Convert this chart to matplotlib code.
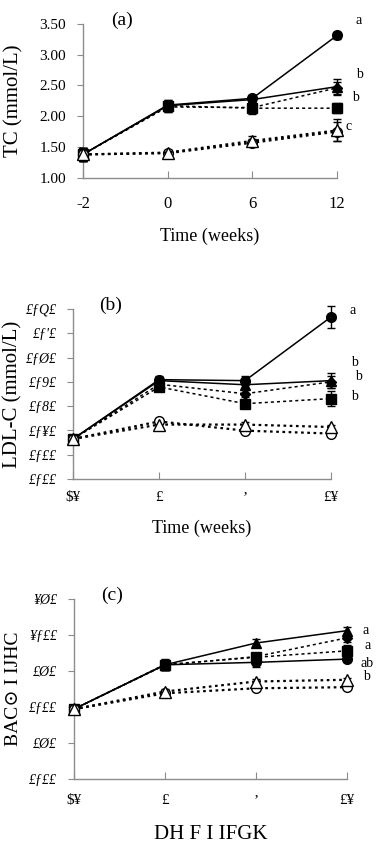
import matplotlib
matplotlib.use("Agg")
import matplotlib.pyplot as plt

plt.rcParams['font.family'] = ['Liberation Serif', 'DejaVu Serif']

weeks = ["-2", "0", "6", "12"]

# TC (mmol/L)
tc_open_circle = [1.38, 1.40, 1.57, 1.75]
tc_open_tri = [1.38, 1.41, 1.60, 1.77]
tc_circle = [1.38, 2.18, 2.29, 3.31]
tc_tri = [1.38, 2.17, 2.27, 2.48]
tc_diamond = [1.38, 2.15, 2.14, 2.46]
tc_square = [1.38, 2.17, 2.13, 2.13]
tc_err_open_circle = [0.08, 0.05, 0.06, 0.16]
tc_err_open_tri = [0.10, 0.05, 0.08, 0.18]
tc_err_circle = [0.10, 0.08, 0.05, 0.05]
tc_err_tri = [0.10, 0.10, 0.06, 0.13]
tc_err_diamond = [0.10, 0.08, 0.10, 0.10]
tc_err_square = [0.10, 0.08, 0.06, 0.08]

# LDL-C
ldl_open_circle = [0.165, 0.237, 0.199, 0.187]
ldl_open_tri = [0.165, 0.224, 0.224, 0.214]
ldl_circle = [0.165, 0.409, 0.405, 0.667]
ldl_tri = [0.165, 0.405, 0.388, 0.405]
ldl_diamond = [0.165, 0.390, 0.351, 0.400]
ldl_square = [0.165, 0.379, 0.310, 0.331]
ldl_err_open_circle = [0.010, 0.010, 0.008, 0.008]
ldl_err_open_tri = [0.010, 0.010, 0.010, 0.010]
ldl_err_circle = [0.012, 0.015, 0.020, 0.045]
ldl_err_tri = [0.012, 0.015, 0.015, 0.030]
ldl_err_diamond = [0.012, 0.015, 0.015, 0.025]
ldl_err_square = [0.012, 0.015, 0.010, 0.030]

# HDL-C
hdl_open_circle = [0.97, 1.19, 1.26, 1.275]
hdl_open_tri = [0.97, 1.215, 1.354, 1.378]
hdl_circle = [0.97, 1.586, 1.62, 1.665]
hdl_tri = [0.97, 1.586, 1.888, 2.06]
hdl_diamond = [0.97, 1.58, 1.70, 1.96]
hdl_square = [0.97, 1.59, 1.69, 1.78]
hdl_err_open_circle = [0.03, 0.03, 0.03, 0.03]
hdl_err_open_tri = [0.03, 0.03, 0.03, 0.03]
hdl_err_circle = [0.03, 0.07, 0.07, 0.04]
hdl_err_tri = [0.03, 0.07, 0.05, 0.05]
hdl_err_diamond = [0.03, 0.07, 0.05, 0.06]
hdl_err_square = [0.03, 0.07, 0.06, 0.08]

# tick labels as they appear in the figure
tc_yticks = [1.00, 1.50, 2.00, 2.50, 3.00, 3.50]
tc_yticklabels = ["1.00", "1.50", "2.00", "2.50", "3.00", "3.50"]
ldl_yticks = [0.0, 0.1, 0.2, 0.3, 0.4, 0.5, 0.6, 0.7]
ldl_yticklabels = ["£ƒ££", "£ƒ££", "£ƒ¥£", "£ƒ8£", "£ƒ9£", "£ƒØ£", "£ƒ'£", "£ƒQ£"]
hdl_yticks = [0.0, 0.5, 1.0, 1.5, 2.0, 2.5]
hdl_yticklabels = ["£ƒ££", "£Ø£", "£ƒ££", "£Ø£", "¥ƒ££", "¥Ø£"]
garbled_weeks = ["$¥", "£", "ʼ", "£¥"]

# significance letters at week 12: (text, y value, x offset px)
tc_letters = [("a", 3.55, 18), ("b", 2.67, 19), ("b", 2.30, 15), ("c", 1.83, 8)]
ldl_letters = [("a", 0.692, 18), ("b", 0.478, 20), ("b", 0.424, 24), ("b", 0.338, 20)]
hdl_letters = [("a", 2.056, 16), ("a", 1.86, 18), ("ab", 1.61, 14), ("b", 1.42, 16)]

spine_col = "#8c8c8c"


def draw_panel(ax, series, ylim, yticks, yticklabels, xticklabels, ylabel, xlabel,
               tag, tag_x, letters, xpad, labelpad, ylabel_size=15, xlabel_size=13,
               ytick_size=11, xtick_size=11):
    x = list(range(len(weeks)))
    # filled groups first so the open symbols sit on top at week -2
    styles = [
        # (values, errors, marker, facecolor, linestyle, linewidth, markersize)
        (series[4], series[5], "D", "black", (0, (2, 2)), 1.1, 5),
        (series[6], series[7], "s", "black", (0, (2, 2)), 1.1, 6.5),
        (series[8], series[9], "^", "black", "-", 1.1, 7),
        (series[10], series[11], "o", "black", "-", 1.1, 7),
        (series[0], series[1], "o", "white", (0, (1.2, 1.6)), 1.6, 7),
        (series[2], series[3], "^", "white", (0, (1.2, 1.6)), 1.6, 8),
    ]
    for vals, errs, mk, fc, ls, lw, ms in styles:
        ax.errorbar(x, vals, yerr=errs, color="black", linestyle=ls, linewidth=lw,
                    marker=mk, markerfacecolor=fc, markeredgecolor="black",
                    markeredgewidth=1.0, markersize=ms, ecolor="black",
                    elinewidth=1.0, capsize=3, capthick=1.0, clip_on=False, zorder=3)
    ax.set_xlim(0, len(weeks) - 1)
    ax.set_ylim(*ylim)
    ax.set_xticks(x)
    ax.set_xticklabels(xticklabels, fontsize=xtick_size)
    ax.set_yticks(yticks)
    ax.set_yticklabels(yticklabels, fontsize=ytick_size)
    ax.tick_params(axis="x", direction="in", length=5, color=spine_col, pad=xpad)
    ax.tick_params(axis="y", direction="out", length=4, color=spine_col, pad=8)
    for s in ["top", "right"]:
        ax.spines[s].set_visible(False)
    for s in ["left", "bottom"]:
        ax.spines[s].set_color(spine_col)
        ax.spines[s].set_linewidth(1.0)
    ax.set_ylabel(ylabel, fontsize=ylabel_size)
    ax.set_xlabel(xlabel, fontsize=xlabel_size, labelpad=labelpad)
    ax.text(tag_x, 1.02, tag, transform=ax.transAxes, fontsize=14, va="center")
    for txt, yv, dx in letters:
        ax.annotate(txt, xy=(3, yv), xytext=(dx * 0.72, 0), textcoords="offset points",
                    fontsize=10, va="center", ha="left", annotation_clip=False)


fig = plt.figure(figsize=(3.77, 8.47), dpi=100)

ax1 = fig.add_axes([0.220, 0.790, 0.674, 0.182])
draw_panel(ax1,
           [tc_open_circle, tc_err_open_circle, tc_open_tri, tc_err_open_tri,
            tc_diamond, tc_err_diamond, tc_square, tc_err_square,
            tc_tri, tc_err_tri, tc_circle, tc_err_circle],
           (1.0, 3.5), tc_yticks, tc_yticklabels, weeks,
           "TC (mmol/L)", "Time (weeks)", "(a)", 0.11, tc_letters,
           xpad=13, labelpad=11, ytick_size=11, xtick_size=12)
ax1.yaxis.set_label_coords(-0.235, 0.5)

ax2 = fig.add_axes([0.194, 0.4345, 0.684, 0.2007])
draw_panel(ax2,
           [ldl_open_circle, ldl_err_open_circle, ldl_open_tri, ldl_err_open_tri,
            ldl_diamond, ldl_err_diamond, ldl_square, ldl_err_square,
            ldl_tri, ldl_err_tri, ldl_circle, ldl_err_circle],
           (0.0, 0.7), ldl_yticks, ldl_yticklabels, garbled_weeks,
           "LDL-C (mmol/L)", "Time (weeks)", "(b)", 0.10, ldl_letters,
           xpad=9, labelpad=11, ytick_size=10, xtick_size=11)
for t in ax2.get_yticklabels():
    t.set_fontstyle("italic")
ax2.yaxis.set_label_coords(-0.195, 0.5)

ax3 = fig.add_axes([0.196, 0.0803, 0.724, 0.2125])
draw_panel(ax3,
           [hdl_open_circle, hdl_err_open_circle, hdl_open_tri, hdl_err_open_tri,
            hdl_diamond, hdl_err_diamond, hdl_square, hdl_err_square,
            hdl_tri, hdl_err_tri, hdl_circle, hdl_err_circle],
           (0.0, 2.5), hdl_yticks, hdl_yticklabels, garbled_weeks,
           "BAC⊙ I IJHC", "DH F I IFGK", "(c)", 0.10, hdl_letters,
           xpad=11, labelpad=13, ylabel_size=14, xlabel_size=15,
           ytick_size=10, xtick_size=11)
for t in ax3.get_yticklabels():
    t.set_fontstyle("italic")
ax3.yaxis.set_label_coords(-0.19, 0.5)

fig.savefig("out.png", dpi=100)
